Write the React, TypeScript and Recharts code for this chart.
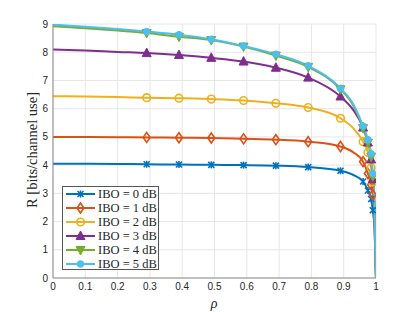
import React from 'react';
import {
  LineChart,
  Line,
  XAxis,
  YAxis,
  CartesianGrid,
} from 'recharts';

// correlation coefficient samples (x axis)
const rho = [0, 0.1, 0.2, 0.29, 0.39, 0.49, 0.59, 0.69, 0.79, 0.89, 0.93, 0.96, 0.975, 0.985, 0.99, 0.995, 1];
// which samples carry a marker
const markerAt = [false, false, false, true, true, true, true, true, true, true, false, true, true, true, true, false, false];

const ibo0 = [4.05, 4.05, 4.04, 4.03, 4.02, 4.01, 4.0, 3.98, 3.93, 3.8, 3.65, 3.42, 3.1, 2.8, 2.4, 1.8, 0];
const ibo1 = [5.0, 5.0, 4.99, 4.98, 4.97, 4.96, 4.93, 4.9, 4.83, 4.66, 4.45, 4.12, 3.7, 3.3, 2.95, 2.2, 0];
const ibo2 = [6.44, 6.43, 6.41, 6.39, 6.37, 6.34, 6.29, 6.19, 6.04, 5.66, 5.3, 4.83, 4.45, 3.9, 3.4, 2.5, 0];
const ibo3 = [8.1, 8.06, 8.01, 7.97, 7.9, 7.8, 7.67, 7.45, 7.1, 6.43, 5.95, 5.33, 4.8, 4.2, 3.5, 2.6, 0];
const ibo4 = [8.92, 8.85, 8.77, 8.68, 8.55, 8.43, 8.2, 7.88, 7.48, 6.69, 6.1, 5.31, 4.8, 4.3, 3.6, 2.7, 0];
const ibo5 = [8.98, 8.9, 8.82, 8.73, 8.62, 8.46, 8.22, 7.93, 7.52, 6.72, 6.15, 5.38, 4.9, 4.4, 3.7, 2.8, 0];

const seriesNames = ['IBO = 0 dB', 'IBO = 1 dB', 'IBO = 2 dB', 'IBO = 3 dB', 'IBO = 4 dB', 'IBO = 5 dB'];
const xTicks = [0, 0.1, 0.2, 0.3, 0.4, 0.5, 0.6, 0.7, 0.8, 0.9, 1];
const yTicks = [0, 1, 2, 3, 4, 5, 6, 7, 8, 9];

const COLORS = ['#0072BD', '#D95319', '#EDB120', '#7E2F8E', '#77AC30', '#4DBEEE'];
const SHAPES = ['star', 'diamond', 'circle', 'up', 'down', 'dot'];
const values = [ibo0, ibo1, ibo2, ibo3, ibo4, ibo5];

const data = rho.map((r, i) => {
  const row: Record<string, number | boolean> = { rho: r, m: markerAt[i] };
  values.forEach((v, s) => {
    row[`s${s}`] = v[i];
  });
  return row;
});

const AXIS = '#8c8c8c';
const TEXT = '#262626';

function Marker({ shape, color, cx, cy }: { shape: string; color: string; cx: number; cy: number }) {
  switch (shape) {
    case 'star':
      return (
        <g stroke={color} strokeWidth={1.6}>
          <line x1={cx - 3} y1={cy - 3} x2={cx + 3} y2={cy + 3} />
          <line x1={cx - 3} y1={cy + 3} x2={cx + 3} y2={cy - 3} />
          <line x1={cx} y1={cy - 3.5} x2={cx} y2={cy + 3.5} />
        </g>
      );
    case 'diamond':
      return (
        <polygon
          points={`${cx},${cy - 5} ${cx + 3.5},${cy} ${cx},${cy + 5} ${cx - 3.5},${cy}`}
          fill="none"
          stroke={color}
          strokeWidth={1.6}
        />
      );
    case 'circle':
      return <circle cx={cx} cy={cy} r={3.8} fill="none" stroke={color} strokeWidth={1.6} />;
    case 'up':
      return (
        <polygon
          points={`${cx},${cy - 5} ${cx + 4.5},${cy + 3.5} ${cx - 4.5},${cy + 3.5}`}
          fill={color}
          stroke={color}
          strokeWidth={1}
        />
      );
    case 'down':
      return (
        <polygon
          points={`${cx},${cy + 5} ${cx + 4.5},${cy - 3.5} ${cx - 4.5},${cy - 3.5}`}
          fill={color}
          stroke={color}
          strokeWidth={1}
        />
      );
    default:
      return <circle cx={cx} cy={cy} r={3.3} fill={color} stroke={color} />;
  }
}

function makeDot(s: number) {
  return (props: any) => {
    const { cx, cy, payload, index } = props;
    if (!payload || !payload.m || cx == null || cy == null) return <g key={`d${s}-${index}`} />;
    return (
      <g key={`d${s}-${index}`}>
        <Marker shape={SHAPES[s]} color={COLORS[s]} cx={cx} cy={cy} />
      </g>
    );
  };
}

function LegendBox() {
  return (
    <div
      style={{
        position: 'absolute',
        left: 62,
        top: 186,
        width: 97,
        height: 84,
        border: '1px solid #555',
        background: '#fff',
        fontFamily: '"Liberation Serif", serif',
        fontSize: 12.5,
        color: TEXT,
        boxSizing: 'border-box',
      }}
    >
      {seriesNames.map((name, s) => (
        <div key={name} style={{ position: 'absolute', left: 2, top: s * 14, height: 14, display: 'flex', alignItems: 'center' }}>
          <svg width={31} height={14} style={{ display: 'block' }}>
            <line x1={1} y1={7} x2={30} y2={7} stroke={COLORS[s]} strokeWidth={2} />
            <Marker shape={SHAPES[s]} color={COLORS[s]} cx={15.5} cy={7} />
          </svg>
          <span style={{ marginLeft: 2, whiteSpace: 'nowrap', lineHeight: '14px' }}>{name}</span>
        </div>
      ))}
    </div>
  );
}

export default function App() {
  return (
    <div style={{ position: 'absolute', left: 0, top: 0, width: 415, height: 312, background: '#fff' }}>
      <LineChart width={415} height={312} data={data} margin={{ top: 24, right: 39, bottom: 4, left: 23 }}>
        <CartesianGrid stroke="#e6e6e6" strokeWidth={1} />
        <XAxis
          dataKey="rho"
          type="number"
          domain={[0, 1]}
          ticks={xTicks}
          tickFormatter={(v) => String(+v.toFixed(1))}
          tickLine={false}
          tickSize={0}
          tickMargin={5}
          height={30}
          stroke={AXIS}
          tick={{ fill: TEXT, fontSize: 10, fontFamily: '"Liberation Sans", Arial, sans-serif' }}
          allowDataOverflow
        />
        <XAxis
          xAxisId="top"
          dataKey="rho"
          type="number"
          orientation="top"
          domain={[0, 1]}
          ticks={xTicks}
          tickFormatter={() => ''}
          mirror
          tickSize={3}
          height={0}
          stroke={AXIS}
        />
        <YAxis
          type="number"
          domain={[0, 9]}
          ticks={yTicks}
          tickLine={false}
          tickSize={0}
          tickMargin={5}
          width={30}
          stroke={AXIS}
          tick={{ fill: TEXT, fontSize: 10, fontFamily: '"Liberation Sans", Arial, sans-serif' }}
          allowDataOverflow
        />
        <YAxis
          yAxisId="right"
          type="number"
          orientation="right"
          domain={[0, 9]}
          ticks={yTicks}
          tickFormatter={() => ''}
          mirror
          tickSize={3}
          width={0}
          stroke={AXIS}
        />
        {values.map((_, s) => (
          <Line
            key={s}
            dataKey={`s${s}`}
            type="monotone"
            stroke={COLORS[s]}
            strokeWidth={2}
            dot={makeDot(s)}
            activeDot={false}
            isAnimationActive={false}
          />
        ))}
        <text
          x={32}
          y={150}
          transform="rotate(-90, 32, 150)"
          textAnchor="middle"
          dominantBaseline="central"
          fontFamily='"Liberation Serif", serif'
          fontSize={14.5}
          fill={TEXT}
        >
          R [bits/channel use]
        </text>
        <text
          x={214}
          y={303}
          textAnchor="middle"
          dominantBaseline="central"
          fontFamily='"Liberation Serif", serif'
          fontStyle="italic"
          fontSize={14}
          fill={TEXT}
        >
          ρ
        </text>
      </LineChart>
      <LegendBox />
    </div>
  );
}
